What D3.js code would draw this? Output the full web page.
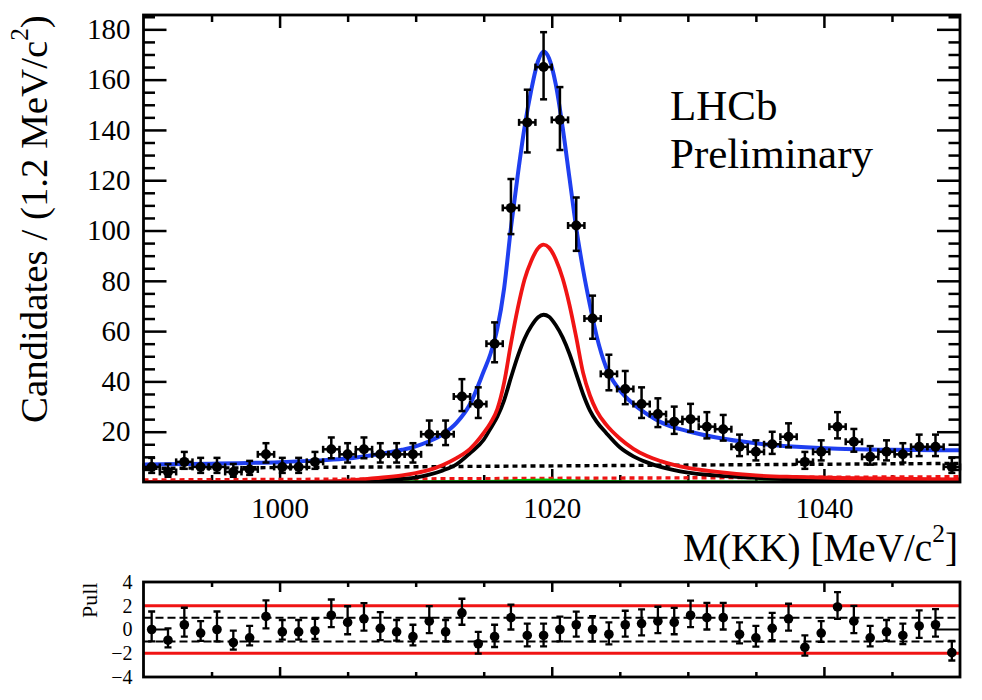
<!DOCTYPE html>
<html><head><meta charset="utf-8">
<script src="https://cdn.jsdelivr.net/npm/d3@7"></script>
<style>
body{margin:0;background:#fff}
svg{display:block}
text{font-family:"Liberation Serif","Times New Roman",Times,serif;fill:#000}
</style></head>
<body><svg id="c" width="982" height="700"></svg>
<script>
// ---------- data ----------
const binCenters = [990.6,991.8,993.0,994.2,995.4,996.6,997.8,999.0,1000.2,1001.4,
  1002.6,1003.8,1005.0,1006.2,1007.4,1008.6,1009.8,1011.0,1012.2,1013.4,
  1014.6,1015.8,1017.0,1018.2,1019.4,1020.6,1021.8,1023.0,1024.2,1025.4,
  1026.6,1027.8,1029.0,1030.2,1031.4,1032.6,1033.8,1035.0,1036.2,1037.4,
  1038.6,1039.8,1041.0,1042.2,1043.4,1044.6,1045.8,1047.0,1048.2,1049.4];
const counts = [6,4,8,6,6,4,5,11,6,6,
  8,13,11,13,11,11,11,19,19,34,
  31,55,109,143,165,144,102,65,43,37,
  31,27,24,25,22,21,14,12,15,18,
  8,12,22,16,10,12,11,14,14,6];
const pulls = [0.0,-0.9,0.4,-0.3,0.0,-1.1,-0.7,1.1,-0.2,-0.2,
  -0.1,1.2,0.6,0.9,0.1,-0.2,-0.6,0.7,-0.2,1.4,
  -1.2,-0.6,1.0,-0.5,-0.5,0.0,0.4,0.0,-0.4,0.4,
  0.5,0.7,0.6,1.2,1.0,1.0,-0.4,-0.7,0.1,0.9,
  -1.5,-0.3,1.9,0.7,-0.7,-0.2,-0.5,0.3,0.4,-1.95];

const curveMass = [990,995,1000,1003,1005,1007,1009,1010,1011,1012,1013,1014,1015,1015.5,1016,1016.5,1017,1017.5,1018,1018.5,1019,1019.4,1019.8,1020.3,1020.8,1021.3,1021.8,1022.3,1022.8,1023.3,1024,1025,1026,1027,1028,1030,1032,1035,1038,1041,1045,1050];
const totalFit = [7.0,7.3,7.9,8.6,9.3,10.8,12.8,14.2,16.2,19.0,23.5,31,44,51,61,77,101,122,141,156,167.5,171.2,168.5,158,141,121,101,84.5,70.5,58,45.5,36.5,31,27,23.8,20.2,17.8,15.4,14.0,13.2,12.8,12.6];
const redSignal = [0,0,0.05,0.15,0.5,1.5,2.6,3.5,4.8,6.8,9.5,13.2,19.5,23.5,29,39.5,55,69,80.5,88,93,94.4,93.2,88.5,81,70.5,57.5,43.5,34.5,28.3,22.8,17.3,13.2,10.3,8.3,5.6,4.1,2.6,2.0,1.6,1.3,1.0];
const blackSignal = [0,0,0,0.05,0.2,0.6,1.2,1.7,2.9,4.6,7.0,11.5,16.8,21.3,26,32.5,41.5,50,57,62,65.5,66.5,65.7,62.3,57.5,51,43,35,28.5,24,19.5,13.8,10.2,7.8,6.0,3.7,2.6,1.6,1.1,0.8,0.6,0.4];
const greenMass = [1005,1010,1014,1016,1017.5,1018.5,1019.4,1020.3,1021.3,1023,1026,1030,1040,1050];
const greenVals = [0,0.05,0.15,0.3,0.55,0.7,0.75,0.7,0.5,0.3,0.1,0.05,0,0];
const bgMass = [990,1050];
const combBg = [5.4,7.4];
const redBg = [0.8,2.1];

const xMajor = [1000,1020,1040];
const xMinor = [995,1005,1010,1015,1025,1030,1035,1045];
const yMajor = [20,40,60,80,100,120,140,160,180];
const yMinor = [5,10,15,25,30,35,45,50,55,65,70,75,85,90,95,105,110,115,125,130,135,145,150,155,165,170,175,185];
const pullLabels = [4,2,0,-2,-4];
const pullBands = [2,-2];
const pullDashed = [1,-1];
const binWidth = 1.2;

// ---------- layout ----------
const L = 143.5, R = 960, T = 15, B = 482;
const PT = 582, PB = 677;
const svg = d3.select('#c');
const x = d3.scaleLinear().domain([990,1050]).range([L,R]);
const y = d3.scaleLinear().domain([0,185.7]).range([B,T]);
const yp = d3.scaleLinear().domain([-4,4]).range([PB,PT]);

const BLUE = '#1f3ff0', RED = '#f01414', GREEN = '#00c000';

function styleAxis(g, fs){
  g.select('.domain').remove();
  g.selectAll('line').attr('stroke','#000').attr('stroke-width',2.5);
  g.selectAll('text').attr('font-family','"Liberation Serif",serif').attr('font-size',fs).attr('fill','#000');
  g.attr('font-family',null).attr('font-size',null);
}

// main axes
styleAxis(svg.append('g').attr('transform',`translate(0,${B})`)
  .call(d3.axisBottom(x).tickValues(xMajor).tickSizeInner(-13).tickSizeOuter(0).tickPadding(15).tickFormat(d3.format('d'))),29);
styleAxis(svg.append('g').attr('transform',`translate(0,${B})`)
  .call(d3.axisBottom(x).tickValues(xMinor).tickSizeInner(-7).tickSizeOuter(0).tickFormat('')),29);
styleAxis(svg.append('g').attr('transform',`translate(0,${T})`)
  .call(d3.axisTop(x).tickValues(xMajor).tickSizeInner(-13).tickSizeOuter(0).tickFormat('')),29);
styleAxis(svg.append('g').attr('transform',`translate(0,${T})`)
  .call(d3.axisTop(x).tickValues(xMinor).tickSizeInner(-7).tickSizeOuter(0).tickFormat('')),29);
styleAxis(svg.append('g').attr('transform',`translate(${L},0)`)
  .call(d3.axisLeft(y).tickValues(yMajor).tickSizeInner(-23).tickSizeOuter(0).tickPadding(13).tickFormat(d3.format('d'))),29);
styleAxis(svg.append('g').attr('transform',`translate(${L},0)`)
  .call(d3.axisLeft(y).tickValues(yMinor).tickSizeInner(-11.5).tickSizeOuter(0).tickFormat('')),29);
styleAxis(svg.append('g').attr('transform',`translate(${R},0)`)
  .call(d3.axisRight(y).tickValues(yMajor).tickSizeInner(-23).tickSizeOuter(0).tickFormat('')),29);
styleAxis(svg.append('g').attr('transform',`translate(${R},0)`)
  .call(d3.axisRight(y).tickValues(yMinor).tickSizeInner(-11.5).tickSizeOuter(0).tickFormat('')),29);

// pull axes
styleAxis(svg.append('g').attr('transform',`translate(0,${PB})`)
  .call(d3.axisBottom(x).tickValues(xMajor).tickSizeInner(-10).tickSizeOuter(0).tickFormat('')),20);
styleAxis(svg.append('g').attr('transform',`translate(0,${PB})`)
  .call(d3.axisBottom(x).tickValues(xMinor).tickSizeInner(-5).tickSizeOuter(0).tickFormat('')),20);
styleAxis(svg.append('g').attr('transform',`translate(0,${PT})`)
  .call(d3.axisTop(x).tickValues(xMajor).tickSizeInner(-10).tickSizeOuter(0).tickFormat('')),20);
styleAxis(svg.append('g').attr('transform',`translate(0,${PT})`)
  .call(d3.axisTop(x).tickValues(xMinor).tickSizeInner(-5).tickSizeOuter(0).tickFormat('')),20);
const pl = svg.append('g').attr('transform',`translate(${L},0)`)
  .call(d3.axisLeft(yp).tickValues(pullLabels).tickSize(0).tickPadding(11)
  .tickFormat(d => d < 0 ? '\u2212' + Math.abs(d) : String(d)));
styleAxis(pl,20);

// clip
svg.append('clipPath').attr('id','clipMain').append('rect').attr('x',L).attr('y',T).attr('width',R-L).attr('height',B-T);
svg.append('clipPath').attr('id','clipPull').append('rect').attr('x',L).attr('y',PT).attr('width',R-L).attr('height',PB-PT);

// curves
const cg = svg.append('g').attr('clip-path','url(#clipMain)');
const line = d3.line().x(d=>x(d[0])).y(d=>y(d[1])).curve(d3.curveMonotoneX);
function drawCurve(ms, vs, color, w, dash){
  const p = cg.append('path').datum(ms.map((m,i)=>[m,vs[i]]))
    .attr('d',line).attr('fill','none').attr('stroke',color).attr('stroke-width',w)
    .attr('stroke-linejoin','round');
  if(dash) p.attr('stroke-dasharray',dash);
}
drawCurve(bgMass, combBg, '#000', 3.4, '5,4');
drawCurve(bgMass, redBg, RED, 3.4, '5,4');
drawCurve(greenMass, greenVals, GREEN, 3, null);
drawCurve(curveMass, blackSignal, '#000', 3.8, null);
drawCurve(curveMass, redSignal, RED, 3.8, null);
drawCurve(curveMass, totalFit, BLUE, 4, null);

// data points
function gehrels(n){
  const hi = n + Math.sqrt(n + 0.75) + 1;
  const lo = n === 0 ? 0 : n * Math.pow(1 - 1/(9*n) - 1/(3*Math.sqrt(n)), 3);
  return [n - lo, hi - n];
}
const dg = svg.append('g');
binCenters.forEach((c,i)=>{
  const n = counts[i];
  const [eLo,eHi] = gehrels(n);
  const cx = x(c), cy = y(n);
  const x0 = x(c - binWidth/2), x1 = x(c + binWidth/2);
  const yt = y(n + eHi), yb = y(n - eLo);
  const g = dg.append('g').attr('stroke','#000').attr('stroke-width',2.5);
  g.append('line').attr('x1',x0).attr('x2',x1).attr('y1',cy).attr('y2',cy);
  g.append('line').attr('x1',cx).attr('x2',cx).attr('y1',yt).attr('y2',yb);
  g.append('line').attr('x1',x0).attr('x2',x0).attr('y1',cy-3.5).attr('y2',cy+3.5);
  g.append('line').attr('x1',x1).attr('x2',x1).attr('y1',cy-3.5).attr('y2',cy+3.5);
  g.append('line').attr('x1',cx-3.5).attr('x2',cx+3.5).attr('y1',yt).attr('y2',yt);
  g.append('line').attr('x1',cx-3.5).attr('x2',cx+3.5).attr('y1',yb).attr('y2',yb);
  dg.append('circle').attr('cx',cx).attr('cy',cy).attr('r',5).attr('fill','#000');
});

// pull panel lines
const pg = svg.append('g').attr('clip-path','url(#clipPull)');
pullBands.forEach(v=>{
  pg.append('line').attr('x1',L).attr('x2',R).attr('y1',yp(v)).attr('y2',yp(v))
    .attr('stroke',RED).attr('stroke-width',2.8);
});
pullDashed.forEach(v=>{
  pg.append('line').attr('x1',L).attr('x2',R).attr('y1',yp(v)).attr('y2',yp(v))
    .attr('stroke','#000').attr('stroke-width',2).attr('stroke-dasharray','8,4');
});
// short zero segments at the ends of the pull graph
pg.append('line').attr('x1',x(binCenters[0])).attr('x2',x(binCenters[1])).attr('y1',yp(0)).attr('y2',yp(0))
  .attr('stroke','#000').attr('stroke-width',2.2);
pg.append('line').attr('x1',x(binCenters[48])).attr('x2',R).attr('y1',yp(0)).attr('y2',yp(0))
  .attr('stroke','#000').attr('stroke-width',2.2);

binCenters.forEach((c,i)=>{
  const n = counts[i];
  const [eLo,eHi] = gehrels(n);
  const p = pulls[i];
  let up, dn;
  if (p >= 0) { up = eHi/eLo; dn = 1; } else { up = 1; dn = eLo/eHi; }
  const cx = x(c);
  const yt = yp(p + up), yb = yp(p - dn);
  const g = pg.append('g').attr('stroke','#000').attr('stroke-width',2.3);
  g.append('line').attr('x1',cx).attr('x2',cx).attr('y1',yt).attr('y2',yb);
  g.append('line').attr('x1',cx-3.5).attr('x2',cx+3.5).attr('y1',yt).attr('y2',yt);
  g.append('line').attr('x1',cx-3.5).attr('x2',cx+3.5).attr('y1',yb).attr('y2',yb);
  pg.append('circle').attr('cx',cx).attr('cy',yp(p)).attr('r',4.8).attr('fill','#000');
});

// frames
svg.append('rect').attr('x',L).attr('y',T).attr('width',R-L).attr('height',B-T)
  .attr('fill','none').attr('stroke','#000').attr('stroke-width',2.8);
svg.append('rect').attr('x',L).attr('y',PT).attr('width',R-L).attr('height',PB-PT)
  .attr('fill','none').attr('stroke','#000').attr('stroke-width',2.8);

// titles
function fitText(t, target){
  const len = t.node().getComputedTextLength();
  const fs = parseFloat(t.attr('font-size'));
  t.attr('font-size', fs * target / len);
}
const yt = svg.append('text').attr('transform','translate(47,423) rotate(-90)')
  .attr('font-size',36).attr('text-anchor','start');
yt.append('tspan').text('Candidates / (1.2 MeV/c');
yt.append('tspan').attr('font-size','0.65em').attr('dy','-0.75em').text('2');
yt.append('tspan').attr('dy','0.48em').text(')');
fitText(yt, 408);

const xt = svg.append('text').attr('x',958).attr('y',561).attr('font-size',36).attr('text-anchor','end');
xt.append('tspan').text('M(KK) [MeV/c');
xt.append('tspan').attr('font-size','0.65em').attr('dy','-0.75em').text('2');
xt.append('tspan').attr('dy','0.48em').text(']');
fitText(xt, 275);

svg.append('text').attr('x',670).attr('y',120).attr('font-size',43).text('LHCb');
svg.append('text').attr('x',670).attr('y',168).attr('font-size',43).text('Preliminary');

svg.append('text').attr('transform','translate(97,618) rotate(-90)').attr('font-size',22).text('Pull');
</script>
</body></html>
